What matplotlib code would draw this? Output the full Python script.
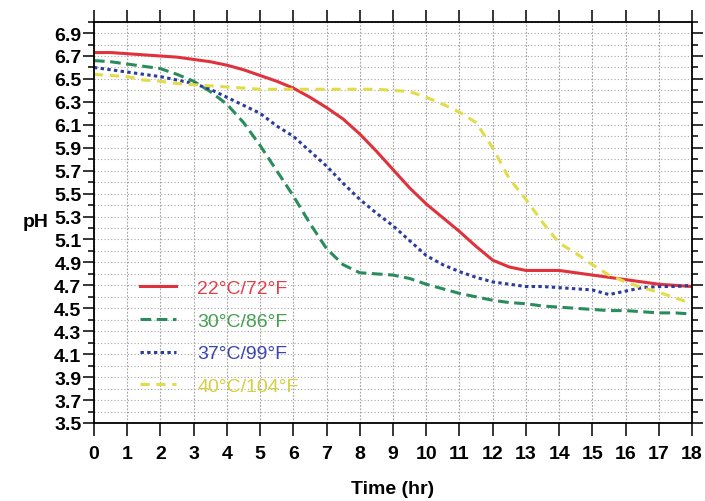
import matplotlib
matplotlib.use("Agg")
import matplotlib.pyplot as plt
from matplotlib.ticker import FixedLocator, FormatStrFormatter

plt.rcParams['font.family'] = ['Liberation Sans', 'DejaVu Sans']

# time axis (hr), half-hour readings
hours = [0, 0.5, 1, 1.5, 2, 2.5, 3, 3.5, 4, 4.5, 5, 5.5, 6, 6.5, 7, 7.5, 8, 8.5, 9,
         9.5, 10, 10.5, 11, 11.5, 12, 12.5, 13, 13.5, 14, 14.5, 15, 15.5, 16, 16.5, 17, 17.5, 18]

ph_22 = [6.73, 6.73, 6.72, 6.71, 6.70, 6.69, 6.67, 6.65, 6.62, 6.58, 6.53, 6.48, 6.42, 6.34, 6.25,
         6.15, 6.02, 5.87, 5.71, 5.55, 5.41, 5.29, 5.17, 5.04, 4.92, 4.86, 4.83, 4.83, 4.83,
         4.81, 4.79, 4.77, 4.75, 4.73, 4.71, 4.70, 4.69]
ph_30 = [6.66, 6.65, 6.63, 6.61, 6.59, 6.54, 6.48, 6.39, 6.28, 6.12, 5.92, 5.70, 5.48, 5.24, 5.02,
         4.88, 4.81, 4.80, 4.79, 4.76, 4.71, 4.67, 4.63, 4.60, 4.57, 4.55, 4.54, 4.52, 4.51,
         4.50, 4.49, 4.48, 4.48, 4.47, 4.46, 4.46, 4.45]
ph_37 = [6.60, 6.58, 6.56, 6.54, 6.52, 6.49, 6.46, 6.41, 6.34, 6.27, 6.20, 6.09, 6.00, 5.87, 5.74,
         5.59, 5.45, 5.33, 5.22, 5.09, 4.96, 4.88, 4.82, 4.77, 4.73, 4.71, 4.69, 4.69, 4.68,
         4.67, 4.66, 4.62, 4.65, 4.68, 4.69, 4.69, 4.70]
ph_40 = [6.54, 6.53, 6.52, 6.49, 6.48, 6.46, 6.45, 6.44, 6.43, 6.42, 6.41, 6.41, 6.41, 6.41, 6.41,
         6.41, 6.41, 6.41, 6.40, 6.39, 6.34, 6.28, 6.21, 6.12, 5.90, 5.63, 5.45, 5.25, 5.07,
         4.98, 4.88, 4.79, 4.73, 4.68, 4.64, 4.59, 4.54]

labels = ['22°C/72°F', '30°C/86°F', '37°C/99°F', '40°C/104°F']
colors = ['#e0323c', '#2a8c5c', '#2c3c9c', '#e2dc48']
text_colors = ['#e0404c', '#44a050', '#3a44b0', '#d6d040']

xticks = list(range(0, 19))
yticks = [3.5, 3.7, 3.9, 4.1, 4.3, 4.5, 4.7, 4.9, 5.1, 5.3, 5.5, 5.7, 5.9, 6.1, 6.3, 6.5, 6.7, 6.9]
yminor = [3.6, 3.8, 4.0, 4.2, 4.4, 4.6, 4.8, 5.0, 5.2, 5.4, 5.6, 5.8, 6.0, 6.2, 6.4, 6.6, 6.8, 7.0]

fig = plt.figure(figsize=(7.05, 5.02), dpi=100)
ax = fig.add_axes([0.1333, 0.1554, 0.8483, 0.7996])

# grid
for yv in yticks + yminor:
    ax.axhline(yv, color='#a8a8a8', lw=0.8, ls=(0, (1, 2)), zorder=0)
for xv in xticks:
    ax.axvline(xv, color='#a0a0a0', lw=0.8, ls=(0, (1.5, 1.5)), zorder=0)

ax.plot(hours, ph_22, color=colors[0], lw=2.2, ls='-', label=labels[0])
ax.plot(hours, ph_30, color=colors[1], lw=2.2, ls=(0, (3.5, 1.8)), label=labels[1])
ax.plot(hours, ph_37, color=colors[2], lw=2.2, ls=(0, (1.1, 1.1)), label=labels[2])
ax.plot(hours, ph_40, color=colors[3], lw=2.2, ls=(0, (3, 2.2)), label=labels[3])

ax.set_xlim(0, 18)
ax.set_ylim(3.5, 7.0)
ax.xaxis.set_major_locator(FixedLocator(xticks))
ax.yaxis.set_major_locator(FixedLocator(yticks))
ax.yaxis.set_minor_locator(FixedLocator(yminor))
ax.yaxis.set_major_formatter(FormatStrFormatter('%.1f'))

for s in ax.spines.values():
    s.set_linewidth(1.3)

ax.tick_params(axis='x', which='major', direction='out', length=9, width=1.1,
               top=True, labelsize=14, pad=7)
ax.tick_params(axis='y', which='major', direction='out', length=8, width=1.1,
               right=True, labelsize=14, pad=1)
ax.tick_params(axis='y', which='minor', direction='out', length=4.5, width=1.1, right=True)
for lab in ax.get_xticklabels() + ax.get_yticklabels():
    lab.set_fontweight('bold')

ax.set_xlabel('Time (hr)', fontsize=14, fontweight='bold', va='center')
ax.set_ylabel('pH', fontsize=14, fontweight='bold', rotation=0, ha='center', va='center')
ax.xaxis.set_label_coords(0.5, -0.164)
ax.yaxis.set_label_coords(-0.097, 0.503)

leg = ax.legend(loc='upper left', bbox_to_anchor=(0.077, 0.358), frameon=False,
                fontsize=14, handlelength=1.85, handletextpad=1.1, labelspacing=0.78,
                borderaxespad=0, borderpad=0)
for t, c in zip(leg.get_texts(), text_colors):
    t.set_color(c)

fig.savefig('out.png', dpi=100)
